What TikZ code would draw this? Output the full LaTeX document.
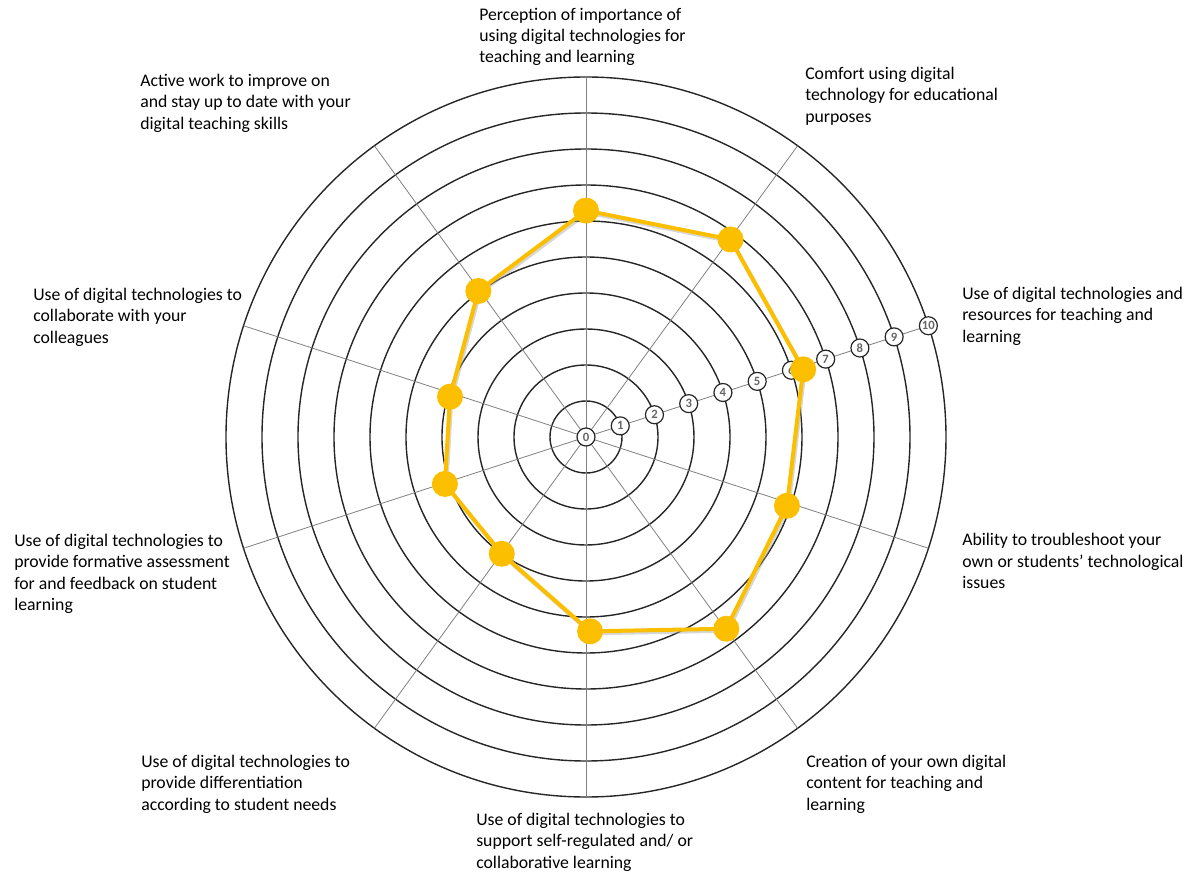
\documentclass[tikz,border=0pt]{standalone}
\usepackage{fontspec}
\setmainfont{Carlito}
\usetikzlibrary{positioning}
\definecolor{scoreyellow}{RGB}{251,191,0}
\tikzset{%
	ring/.style      = {draw=black!85, line width=1.05pt},
	spoke/.style     = {draw=black!50, line width=0.6pt},
	tick/.style      = {draw=black!85, circle, fill=white, line width=0.9pt, inner sep=0pt, minimum size=13.5pt, text=black!60, font=\fontsize{9.5}{9.5}\selectfont\bfseries}, % scale marks
	dot/.style       = {circle, fill=scoreyellow, inner sep=0pt, minimum size=19.5pt},
	polyline/.style  = {draw=scoreyellow, line width=3pt, line join=round},
	shadowline/.style= {draw=black!35, line width=3pt, line join=round, opacity=0.45},
	axislabel/.style = {anchor=north west, align=left, inner sep=0pt, font=\fontsize{13.3}{16.1}\selectfont},
}

\begin{document}
\begin{tikzpicture}[x=0.75pt,y=0.75pt]
	\useasboundingbox (-586,-437) rectangle (602,437);
	\coordinate (o) at (0,0);
	
	% rings and spokes
	\foreach \r in {1,...,10}
		\draw[ring] (o) circle ({36*\r});
	\foreach \a in {18,54,...,342}
		\draw[spoke] (o) -- (\a:360);
	
	% scale along the 18 degree spoke
	\foreach \k in {0,...,10}
		\node[tick] (t\k) at (18:{36*\k}) {\k};
	
	% scores
	\foreach \a/\v [count=\i] in {90/6.29, 53.8/6.8, 17.3/6.32, -18.9/5.9, -53.8/6.6, -88.8/5.4, -125.8/4.0, -161.6/4.13, 163.5/3.94, 126.4/5.04}
		\coordinate (p\i) at (\a:{36*\v});
	\draw[shadowline, transform canvas={shift={(1pt,-1.5pt)}}] (p1) -- (p2) -- (p3) -- (p4) -- (p5) -- (p6) -- (p7) -- (p8) -- (p9) -- (p10) -- cycle;
	\draw[polyline] (p1) -- (p2) -- (p3) -- (p4) -- (p5) -- (p6) -- (p7) -- (p8) -- (p9) -- (p10) -- cycle;
	\foreach \i in {1,...,10}
		\node[dot] (d\i) at (p\i) {};
	
	% axis labels
	\node[axislabel] (perception) at (-107,429.5) {Perception of importance of\\using digital technologies for\\teaching and learning};
	\node[axislabel] (comfort) at (219,370.5) {Comfort using digital\\technology for educational\\purposes};
	\node[axislabel] (resources) at (376,150.2) {Use of digital technologies and\\resources for teaching and\\learning};
	\node[axislabel] (troubleshoot) at (376,-96.2) {Ability to troubleshoot your\\own or students’ technological\\issues};
	\node[axislabel] (creation) at (220,-317.8) {Creation of your own digital\\content for teaching and\\learning};
	\node[axislabel] (selfreg) at (-110,-375.5) {Use of digital technologies to\\support self-regulated and/ or\\collaborative learning};
	\node[axislabel] (differentiation) at (-445,-317.8) {Use of digital technologies to\\provide differentiation\\according to student needs};
	\node[axislabel] (formative) at (-572,-96.5) {Use of digital technologies to\\provide formative assessment\\for and feedback on student\\learning};
	\node[axislabel] (collaborate) at (-553,149.5) {Use of digital technologies to\\collaborate with your\\colleagues};
	\node[axislabel] (activework) at (-446,363.2) {Active work to improve on\\and stay up to date with your\\digital teaching skills};
\end{tikzpicture}
\end{document}
